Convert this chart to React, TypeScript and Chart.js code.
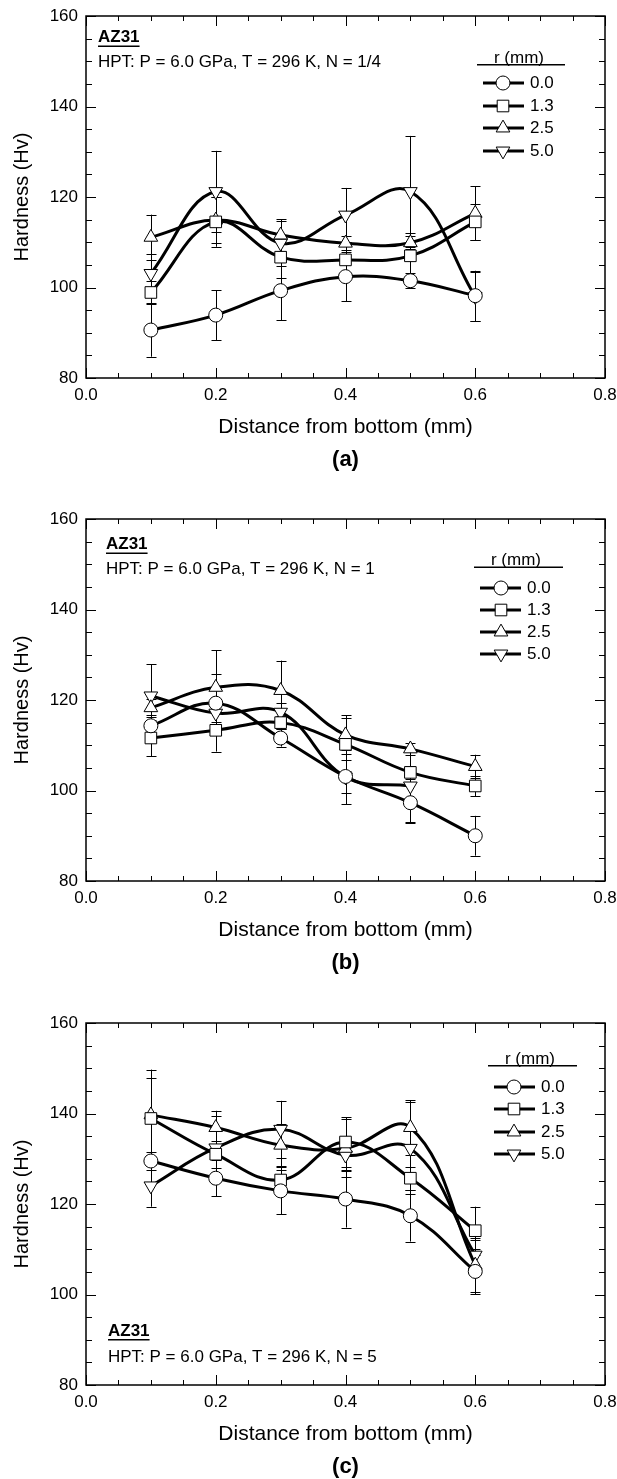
import React, { useEffect, useRef } from 'react';
import { Chart, registerables } from 'chart.js';

Chart.register(...registerables);

// ---------------- data ----------------
const xValues = [0.1, 0.2, 0.3, 0.4, 0.5, 0.6];
const seriesLabels = ['0.0', '1.3', '2.5', '5.0'];
const xTickValues = [0, 0.2, 0.4, 0.6, 0.8];
const xTickLabels = ['0.0', '0.2', '0.4', '0.6', '0.8'];
const yTickValues = [80, 100, 120, 140, 160];
const yTickLabels = ['80', '100', '120', '140', '160'];
const panelLetters = ['(a)', '(b)', '(c)'];
const turnLabels = ['1/4', '1', '5'];

// Panel (a): N = 1/4
const a_r00 = [90.6, 93.9, 99.3, 102.4, 101.5, 98.2];
const a_r00_err = [5.9, 5.5, 6.5, 5.4, 1.7, 5.5];
const a_r13 = [98.9, 114.5, 106.7, 106.1, 107.0, 114.5];
const a_r13_err = [2.5, 5.5, 4.5, 4.0, 5.0, 4.0];
const a_r25 = [111.1, 114.9, 111.6, 109.8, 109.9, 116.4];
const a_r25_err = [5.0, 5.0, 3.5, 1.5, 1.5, 6.0];
const a_r50 = [103.1, 121.2, 109.8, 116.0, 121.2, 98.0];
const a_r50_err = [4.3, 9.0, 5.0, 6.0, 12.3, 5.5];

// Panel (b): N = 1
const b_r00 = [114.3, 119.3, 111.6, 103.1, 97.3, 90.0];
const b_r00_err = [2.3, 6.4, 1.9, 3.7, 4.5, 4.4];
const b_r13 = [111.6, 113.3, 115.0, 110.2, 104.0, 101.0];
const b_r13_err = [4.0, 4.7, 1.5, 5.8, 1.5, 2.3];
const b_r25 = [118.3, 122.8, 122.1, 112.3, 109.2, 105.3];
const b_r25_err = [2.0, 8.2, 6.6, 4.3, 1.4, 2.6];
const b_r50 = [120.9, 117.1, 117.3, 103.0, 101.0, null];
const b_r50_err = [7.0, 2.0, 2.0, 6.0, 8.0, null];

// Panel (c): N = 5
const c_r00 = [129.5, 125.7, 122.9, 121.1, 117.4, 105.1];
const c_r00_err = [2.0, 4.0, 5.2, 6.3, 5.7, 5.0];
const c_r13 = [138.9, 131.0, 125.3, 133.7, 125.7, 114.1];
const c_r13_err = [9.0, 3.0, 2.2, 5.5, 2.5, 5.3];
const c_r25 = [139.7, 136.9, 133.0, 132.3, 136.9, 106.5];
const c_r25_err = [10.0, 3.7, 4.6, 6.4, 6.0, 6.0];
const c_r50 = [124.0, 132.4, 136.5, 130.8, 132.3, 108.7];
const c_r50_err = [4.6, 7.0, 6.3, 3.3, 10.2, 3.3];

const panelSeries = [
  [a_r00, a_r13, a_r25, a_r50],
  [b_r00, b_r13, b_r25, b_r50],
  [c_r00, c_r13, c_r25, c_r50],
];
const panelErrors = [
  [a_r00_err, a_r13_err, a_r25_err, a_r50_err],
  [b_r00_err, b_r13_err, b_r25_err, b_r50_err],
  [c_r00_err, c_r13_err, c_r25_err, c_r50_err],
];

// ---------------- layout / style ----------------
const FONT = "'Liberation Sans', Arial, Helvetica, sans-serif";
const W = 617;
const PANEL_TOPS = [0, 503, 1007];
const CANVAS_H = [503, 504, 472];
const AREA_TOP = 16;
const AREA_BOTTOM = 378;
const AREA_RIGHT = 605;
const AREA_LEFT = 86;
const XSCALE_H = 30;

const markerStyles = ['circle', 'rect', 'triangle', 'tridown'];
const markerRadius = [7, 8.2, 7.9, 7.9];

// legend/annotation placement (relative to chart area)
const legendLayout = [
  { header: 42.6, underline: 48, rows: [67, 90, 112, 135], lx0: 483, lx1: 524, mx: 503, tx: 530, hx: 519, ux0: 477, ux1: 565 },
  { header: 41.6, underline: 47.5, rows: [69, 91, 113, 135], lx0: 480, lx1: 521, mx: 501, tx: 527, hx: 516, ux0: 474, ux1: 563 },
  { header: 36.7, underline: 42, rows: [64, 86, 109, 131], lx0: 494, lx1: 535, mx: 514, tx: 541, hx: 530, ux0: 488, ux1: 577 },
];
const noteLayout = [
  { x: 98, fromTop: true, az: 21.5, hpt: 46 },
  { x: 106, fromTop: true, az: 25.5, hpt: 50.5 },
  { x: 108, fromTop: false, az: 54, hpt: 28 },
];

function drawMarker(ctx: CanvasRenderingContext2D, style: string, x: number, y: number, r: number) {
  ctx.save();
  ctx.beginPath();
  if (style === 'circle') {
    ctx.arc(x, y, r, 0, Math.PI * 2);
  } else if (style === 'rect') {
    const s = r * Math.SQRT1_2;
    ctx.rect(x - s, y - s, 2 * s, 2 * s);
  } else {
    const sign = style === 'triangle' ? 1 : -1;
    const sx = r * Math.sin((2 * Math.PI) / 3);
    ctx.moveTo(x, y - sign * r);
    ctx.lineTo(x + sx, y + sign * 0.5 * r);
    ctx.lineTo(x - sx, y + sign * 0.5 * r);
    ctx.closePath();
  }
  ctx.fillStyle = '#fff';
  ctx.fill();
  ctx.lineWidth = 1;
  ctx.strokeStyle = '#000';
  ctx.stroke();
  ctx.restore();
}

function makeDecorPlugin(idx: number) {
  const series = panelSeries[idx];
  const errs = panelErrors[idx];
  return {
    id: 'decor' + idx,
    beforeDatasetsDraw(chart: any) {
      const ctx: CanvasRenderingContext2D = chart.ctx;
      const xs = chart.scales.x;
      const ys = chart.scales.y;
      ctx.save();
      ctx.strokeStyle = '#000';
      ctx.lineWidth = 1;
      for (let s = 0; s < series.length; s++) {
        for (let j = 0; j < xValues.length; j++) {
          const v = series[s][j];
          const e = errs[s][j];
          if (v == null || e == null) continue;
          const px = Math.round(xs.getPixelForValue(xValues[j])) + 0.5;
          const yt = ys.getPixelForValue(v + e);
          const yb = ys.getPixelForValue(v - e);
          ctx.beginPath();
          ctx.moveTo(px, yt);
          ctx.lineTo(px, yb);
          ctx.moveTo(px - 5, Math.round(yt) + 0.5);
          ctx.lineTo(px + 5, Math.round(yt) + 0.5);
          ctx.moveTo(px - 5, Math.round(yb) + 0.5);
          ctx.lineTo(px + 5, Math.round(yb) + 0.5);
          ctx.stroke();
        }
      }
      ctx.restore();
    },
    afterDraw(chart: any) {
      const ctx: CanvasRenderingContext2D = chart.ctx;
      const xs = chart.scales.x;
      const ys = chart.scales.y;
      const { left, right, top, bottom } = chart.chartArea;
      ctx.save();
      // frame
      ctx.strokeStyle = '#000';
      ctx.lineWidth = 1.5;
      ctx.strokeRect(left, top, right - left, bottom - top);
      // inward ticks on all four sides
      ctx.lineWidth = 1;
      ctx.beginPath();
      for (let v = 80; v <= 160; v += 5) {
        const y = Math.round(ys.getPixelForValue(v)) + 0.5;
        const len = v % 20 === 0 ? 10 : 6;
        ctx.moveTo(left, y);
        ctx.lineTo(left + len, y);
        ctx.moveTo(right, y);
        ctx.lineTo(right - len, y);
      }
      for (let k = 0; k <= 16; k++) {
        const v = k * 0.05;
        const x = Math.round(xs.getPixelForValue(v)) + 0.5;
        const len = k % 4 === 0 ? 10 : 5;
        ctx.moveTo(x, bottom);
        ctx.lineTo(x, bottom - len);
        ctx.moveTo(x, top);
        ctx.lineTo(x, top + len);
      }
      ctx.stroke();

      ctx.fillStyle = '#000';
      // axis titles
      ctx.font = `21px ${FONT}`;
      ctx.textAlign = 'center';
      ctx.textBaseline = 'middle';
      ctx.fillText('Distance from bottom (mm)', (left + right) / 2, bottom + 49);
      ctx.save();
      ctx.translate(22, (top + bottom) / 2);
      ctx.rotate(-Math.PI / 2);
      ctx.font = `20px ${FONT}`;
      ctx.fillText('Hardness (Hv)', 0, 0);
      ctx.restore();
      ctx.font = `bold 22px ${FONT}`;
      ctx.fillText(panelLetters[idx], (left + right) / 2, bottom + 82);

      // annotation
      const nl = noteLayout[idx];
      const azY = nl.fromTop ? top + nl.az : bottom - nl.az;
      const hpY = nl.fromTop ? top + nl.hpt : bottom - nl.hpt;
      ctx.textAlign = 'left';
      ctx.font = `bold 17px ${FONT}`;
      ctx.fillText('AZ31', nl.x, azY);
      const azW = ctx.measureText('AZ31').width;
      ctx.fillRect(nl.x, azY + 8, azW, 1.5);
      ctx.font = `17px ${FONT}`;
      ctx.fillText(`HPT: P = 6.0 GPa, T = 296 K, N = ${turnLabels[idx]}`, nl.x, hpY);

      // legend
      const lg = legendLayout[idx];
      ctx.textAlign = 'center';
      ctx.fillText('r (mm)', lg.hx, top + lg.header);
      ctx.fillRect(lg.ux0, top + lg.underline, lg.ux1 - lg.ux0, 1.5);
      ctx.textAlign = 'left';
      for (let s = 0; s < seriesLabels.length; s++) {
        const y = top + lg.rows[s];
        ctx.beginPath();
        ctx.lineWidth = 3;
        ctx.moveTo(lg.lx0, y);
        ctx.lineTo(lg.lx1, y);
        ctx.stroke();
        drawMarker(ctx, markerStyles[s], lg.mx, y, markerRadius[s]);
        ctx.fillStyle = '#000';
        ctx.fillText(seriesLabels[s], lg.tx, y);
      }
      ctx.restore();
    },
  };
}

function zeroPadding(s: any) {
  s.paddingLeft = 0;
  s.paddingRight = 0;
  s.paddingTop = 0;
  s.paddingBottom = 0;
}

function buildConfig(idx: number): any {
  const series = panelSeries[idx];
  const H = CANVAS_H[idx];
  const datasets = series.map((vals, s) => ({
    label: seriesLabels[s],
    data: xValues
      .map((x, j) => ({ x, y: vals[j] }))
      .filter((p) => p.y != null),
    borderColor: '#000',
    borderWidth: 3,
    backgroundColor: '#fff',
    pointStyle: markerStyles[s] === 'tridown' ? 'triangle' : markerStyles[s],
    rotation: markerStyles[s] === 'tridown' ? 180 : 0,
    pointRadius: markerRadius[s],
    pointBackgroundColor: '#fff',
    pointBorderColor: '#000',
    pointBorderWidth: 1,
    tension: 0.4,
    fill: false,
  }));
  return {
    type: 'line',
    data: { datasets },
    options: {
      responsive: false,
      animation: false,
      devicePixelRatio: 1,
      layout: {
        autoPadding: false,
        padding: { left: 0, right: W - AREA_RIGHT, top: AREA_TOP, bottom: H - AREA_BOTTOM - XSCALE_H },
      },
      plugins: {
        legend: { display: false },
        tooltip: { enabled: false },
        title: { display: false },
      },
      scales: {
        x: {
          type: 'linear',
          min: 0,
          max: 0.8,
          afterBuildTicks: (s: any) => {
            s.ticks = xTickValues.map((v) => ({ value: v }));
          },
          afterFit: (s: any) => {
            s.height = XSCALE_H;
            zeroPadding(s);
          },
          grid: { display: false, drawTicks: false },
          border: { display: false },
          ticks: {
            padding: 7,
            color: '#000',
            font: { family: FONT, size: 17 },
            maxRotation: 0,
            autoSkip: false,
            callback: (_v: any, i: number) => xTickLabels[i],
          },
        },
        y: {
          type: 'linear',
          min: 80,
          max: 160,
          afterBuildTicks: (s: any) => {
            s.ticks = yTickValues.map((v) => ({ value: v }));
          },
          afterFit: (s: any) => {
            s.width = AREA_LEFT;
            zeroPadding(s);
          },
          grid: { display: false, drawTicks: false },
          border: { display: false },
          ticks: {
            padding: 8,
            color: '#000',
            font: { family: FONT, size: 17 },
            autoSkip: false,
            callback: (_v: any, i: number) => yTickLabels[i],
          },
        },
      },
    },
    plugins: [makeDecorPlugin(idx)],
  };
}

function Panel({ idx }: { idx: number }) {
  const ref = useRef<HTMLCanvasElement>(null);
  useEffect(() => {
    if (!ref.current) return;
    const chart = new Chart(ref.current, buildConfig(idx));
    return () => chart.destroy();
  }, [idx]);
  return (
    <canvas
      ref={ref}
      width={W}
      height={CANVAS_H[idx]}
      style={{ position: 'absolute', left: 0, top: PANEL_TOPS[idx], width: W, height: CANVAS_H[idx] }}
    />
  );
}

export default function App() {
  return (
    <div style={{ position: 'absolute', left: 0, top: 0, width: W, height: 1479, background: '#fff', overflow: 'hidden' }}>
      <Panel idx={0} />
      <Panel idx={1} />
      <Panel idx={2} />
    </div>
  );
}
